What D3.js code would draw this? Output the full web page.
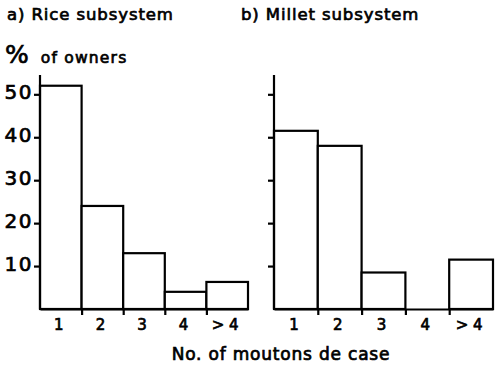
<!DOCTYPE html>
<html>
<head>
<meta charset="utf-8">
<script src="https://cdn.jsdelivr.net/npm/d3@7"></script>
<style>
  body { margin: 0; background: #fff; }
  text { font-family: "DejaVu Sans", sans-serif; fill: #000; stroke: #000; stroke-width: 0.7px; }
</style>
</head>
<body>
<div id="chart"></div>
<script>
// values (% of owners)
const categories = ["1", "2", "3", "4", "> 4"];
const riceValues = [52, 24, 13, 4, 6.3];
const milletValues = [41.5, 38, 8.5, 0, 11.5];
const yTicks = [10, 20, 30, 40, 50];
const titles = ["a) Rice subsystem", "b) Millet subsystem"];

let width = 499, height = 366;

let svg = d3.select("#chart").append("svg")
    .attr("width", width)
    .attr("height", height);

let baseY = 309;
let yScale = d3.scaleLinear()
    .domain([0, 54.5])
    .range([baseY, 75]);

function drawPanel(values, left, right, title, showLabels)
{
    let xScale = d3.scaleLinear()
        .domain([0, categories.length])
        .range([left, right]);

    let g = svg.append("g");

    // bars
    g.selectAll("rect")
        .data(values)
        .enter().append("rect")
        .attr("x", (d, i) => xScale(i))
        .attr("y", (d) => yScale(d))
        .attr("width", (d, i) => xScale(i + 1) - xScale(i))
        .attr("height", (d) => baseY - yScale(d))
        .attr("fill", "#fff")
        .attr("stroke", "#000")
        .attr("stroke-width", 2.2)
        .style("display", (d) => d > 0 ? null : "none");

    // y axis
    let yAxis = g.append("g")
        .attr("transform", "translate(" + left + ",0)")
        .call(d3.axisLeft(yScale)
            .tickValues(yTicks)
            .tickSize(6)
            .tickFormat(showLabels ? d3.format("d") : ""));
    yAxis.select(".domain").remove();
    yAxis.selectAll(".tick line").attr("stroke-width", 2.2);
    yAxis.selectAll(".tick text")
        .attr("x", -7)
        .attr("dy", "0.22em")
        .style("font-size", "20px")
        .style("letter-spacing", "1.5px")
        .style("font-family", "DejaVu Sans");

    g.append("line")
        .attr("x1", left).attr("x2", left)
        .attr("y1", yScale.range()[1]).attr("y2", baseY)
        .attr("stroke", "#000")
        .attr("stroke-width", 2.2);

    // baseline with bin edge ticks
    let xAxis = g.append("g")
        .attr("transform", "translate(0," + baseY + ")")
        .call(d3.axisBottom(xScale)
            .tickValues([1, 2, 3, 4])
            .tickSize(6)
            .tickSizeOuter(0)
            .tickFormat(""));
    xAxis.select(".domain").attr("stroke-width", 2.2);
    xAxis.selectAll(".tick line").attr("stroke-width", 2.2);

    // category labels
    g.selectAll(".cat")
        .data(categories)
        .enter().append("text")
        .attr("class", "cat")
        .attr("x", (d, i) => xScale(i + 0.5) - 2)
        .attr("y", 330)
        .attr("text-anchor", "middle")
        .style("font-size", "15px")
        .text((d) => d);

    svg.append("text")
        .attr("x", left - 33)
        .attr("y", 20)
        .style("font-size", "16.5px")
        .style("letter-spacing", "0.9px")
        .text(title);
}

drawPanel(riceValues, 40, 248, titles[0], true);
drawPanel(milletValues, 274, 493, titles[1], false);

let owners = svg.append("text")
    .attr("x", 5)
    .attr("y", 63);
owners.append("tspan").style("font-size", "25px").text("%");
owners.append("tspan").attr("dx", 12).style("font-size", "15.5px")
    .style("letter-spacing", "1.2px").text("of owners");

svg.append("text")
    .attr("x", 281)
    .attr("y", 360)
    .attr("text-anchor", "middle")
    .style("font-size", "17px")
    .style("letter-spacing", "0.8px")
    .text("No. of moutons de case");
</script>
</body>
</html>
